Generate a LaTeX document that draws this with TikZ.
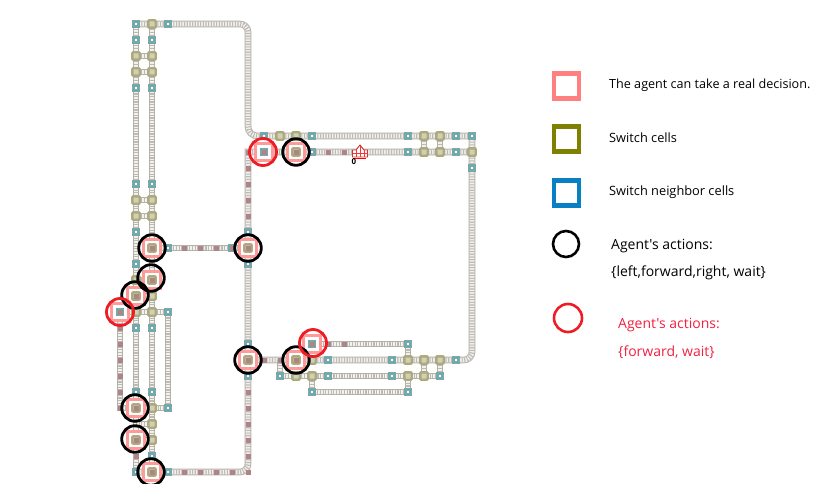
\documentclass[tikz,border=0pt]{standalone}
\usepackage{fontspec}
\setmainfont{Open Sans}
\newfontfamily\legendfont{Open Sans}
\definecolor{railc}{HTML}{B4B0AA}
\definecolor{railin}{HTML}{F3F1EE}
\definecolor{tiec}{HTML}{BDB9B3}
\definecolor{neighc}{HTML}{74A8AA}
\definecolor{switchc}{HTML}{ACAA7C}
\definecolor{decc}{HTML}{FF9A9A}
\definecolor{marc}{HTML}{AE8486}
\definecolor{lgpink}{HTML}{FF8080}
\definecolor{lgolive}{HTML}{808000}
\definecolor{lgblue}{HTML}{0A80C4}
\definecolor{ringred}{HTML}{EE1C25}
\definecolor{txtred}{HTML}{F02040}
\tikzset{
  railway/.style={draw=railc,line width=6.6pt,
    postaction={draw=railin,line width=4.6pt},
    postaction={draw=tiec,line width=4.6pt,dash pattern=on 1.1pt off 1.57pt}},
  neighcell/.style={draw=neighc,fill=white,line width=2.8pt,minimum size=5.4pt,inner sep=0pt,rectangle},
  switchcell/.style={draw=switchc,fill=switchc!55,line width=2.4pt,minimum size=7.4pt,inner sep=0pt,rectangle,rounded corners=1pt},
  maroon/.style={fill=marc,minimum size=5pt,inner sep=0pt,rectangle},
  decring/.style={draw=decc,fill=white,line width=3.3pt,minimum size=17pt,inner sep=0pt,rectangle},
  blackring/.style={circle,draw=black,line width=2.8pt,minimum size=26.6pt,inner sep=0pt},
  redring/.style={circle,draw=ringred,line width=2.8pt,minimum size=27pt,inner sep=0pt},
  lgsq/.style={rectangle,line width=4.6pt,minimum size=25pt,inner sep=0pt,fill=white},
  lab/.style={anchor=west,inner sep=0pt,text=black}
}
\newcommand{\smalltxt}{\legendfont\fontsize{12.6}{15}\selectfont}
\newcommand{\midtxt}{\legendfont\fontsize{12.8}{15}\selectfont}
\newcommand{\bigtxt}{\legendfont\fontsize{14}{17}\selectfont}
\begin{document}
\begin{tikzpicture}[x=1pt,y=-1pt]
\useasboundingbox (0,0) rectangle (824,484);
% tracks
\draw[railway] (136,24) -- (240,24) .. controls (244.4,24) and (248,27.6) .. (248,32) -- (248,126) .. controls (248,132) and (252,136) .. (258,136) -- (472,136) -- (472,352) .. controls (472,356.4) and (468.4,360) .. (464,360) -- (248,360);
\draw[railway] (136,24) -- (136,472);
\draw[railway] (152,24) -- (152,472);
\foreach \yy in {56,72,200,216,280,296,424,440}{\draw[railway] (136,\yy) -- (152,\yy);}
\draw[railway] (120,312) -- (168,312) -- (168,408);
\draw[railway] (120,312) -- (120,408) -- (168,408);
\draw[railway] (152,248) -- (248,248);
\draw[railway] (136,472) -- (240,472) .. controls (244.4,472) and (248,468.4) .. (248,464) -- (248,152) -- (472,152);
\foreach \xx in {424,440}{\draw[railway] (\xx,136) -- (\xx,152);\draw[railway] (\xx,360) -- (\xx,376);}
\draw[railway] (312,344) -- (408,344) -- (408,360);
\draw[railway] (280,360) -- (280,376) -- (440,376);
\draw[railway] (312,376) -- (312,392) -- (408,392) -- (408,376);
% decision rings
\foreach \px/\py [count=\i] in {152/248,248/248,248/360,296/360,296/152,264/152,312/344,120/312,152/472}{
  \node[decring] (dec\i) at (\px,\py) {};}
% switch cells
\foreach \px/\py [count=\i] in {152/24,136/56,152/56,136/72,152/72,136/200,152/200,136/216,152/216,152/248,248/248,136/280,152/296,136/312,152/312,152/408,152/424,152/440,152/472,280/136,296/136,296/152,424/136,440/136,424/152,440/152,472/152,248/360,296/360,312/360,408/360,424/360,440/360,296/376,312/376,408/376,424/376}{
  \node[switchcell] (sw\i) at (\px,\py) {};}
% rings drawn over their neighbouring switches
\foreach \px/\py [count=\i] in {136/296,152/280,136/408,136/440}{
  \node[decring] (decb\i) at (\px,\py) {};
  \node[switchcell] (swb\i) at (\px,\py) {};}
% neighbour cells
\foreach \px/\py [count=\i] in {136/24,168/24,136/40,152/40,136/88,152/88,136/184,152/184,136/232,168/248,232/248,248/232,248/264,136/264,136/328,152/328,168/312,168/408,136/392,152/392,136/472,168/472,152/456,248/344,248/376,264/136,312/136,408/136,456/136,472/136,312/152,408/152,456/152,472/168,120/312,264/152,312/344,408/344,328/360,392/360,456/360,280/376,328/376,392/376,440/376,312/392,408/392}{
  \node[neighcell] (nb\i) at (\px,\py) {};}
% maroon cells
\foreach \px/\py [count=\i] in {152/248,248/248,152/280,136/296,120/312,136/408,136/440,152/472,248/360,296/360,296/152,264/152,312/344,
 184/248,200/248,216/248,232/248,248/168,248/184,248/200,248/216,120/328,120/344,120/360,120/376,120/392,120/408,136/456,184/472,200/472,216/472,232/472,248/472,248/392,248/408,248/424,248/440,248/456,248/152,328/152,344/152,264/360,280/360,328/344,344/344}{
  \node[maroon] (mr\i) at (\px,\py) {};}
% agent
\node[inner sep=0pt,minimum size=0pt] (agent) at (360,152) {};
\draw[red!75!black!80,line width=0.9pt,fill=white] (352.5,157) -- (352.5,150) -- (356,150) -- (360,145) -- (364,150) -- (367.5,150) -- (367.5,157) -- cycle;
\draw[red!80,line width=0.9pt] (356,150) -- (356,157) (360,146) -- (360,157) (364,150) -- (364,157) (352.5,153.5) -- (367.5,153.5);
\draw[red,line width=1.2pt] (353,158.7) -- (366,158.7);
\node[inner sep=0pt,font=\fontsize{8}{9}\selectfont\bfseries] (agentlabel) at (354,161.5) {0};
% action rings
\foreach \px/\py [count=\i] in {152/248,248/248,151/278,135/295,135/408,135/439,151/472,248/360,296/360,296/152}{
  \node[blackring] (blk\i) at (\px,\py) {};}
\foreach \px/\py [count=\i] in {120/312,263/152,313/343}{
  \node[redring] (rd\i) at (\px,\py) {};}
% legend
\node[lgsq,draw=lgpink] (lg1) at (566.5,86) {};
\node[lgsq,draw=lgolive] (lg2) at (566.5,139) {};
\node[lgsq,draw=lgblue] (lg3) at (566.5,193) {};
\node[circle,draw=black,line width=2.6pt,minimum size=26pt,inner sep=0pt] (lg4) at (566,244) {};
\node[circle,draw=ringred,line width=2.6pt,minimum size=28pt,inner sep=0pt] (lg5) at (568,318) {};
\node[lab,font=\smalltxt] (t1) at (609,85.5) {The agent can take a real decision.};
\node[lab,font=\midtxt] (t2) at (609,138) {Switch cells};
\node[lab,font=\midtxt] (t3) at (609,192) {Switch neighbor cells};
\node[lab,font=\bigtxt] (t4) at (611,246) {Agent's actions:};
\node[lab,font=\bigtxt] (t5) at (611,273) {\{left,forward,right, wait\}};
\node[lab,font=\bigtxt,text=txtred] (t6) at (618,325) {Agent's actions:};
\node[lab,font=\bigtxt,text=txtred] (t7) at (618,352) {\{forward, wait\}};
\end{tikzpicture}
\end{document}
